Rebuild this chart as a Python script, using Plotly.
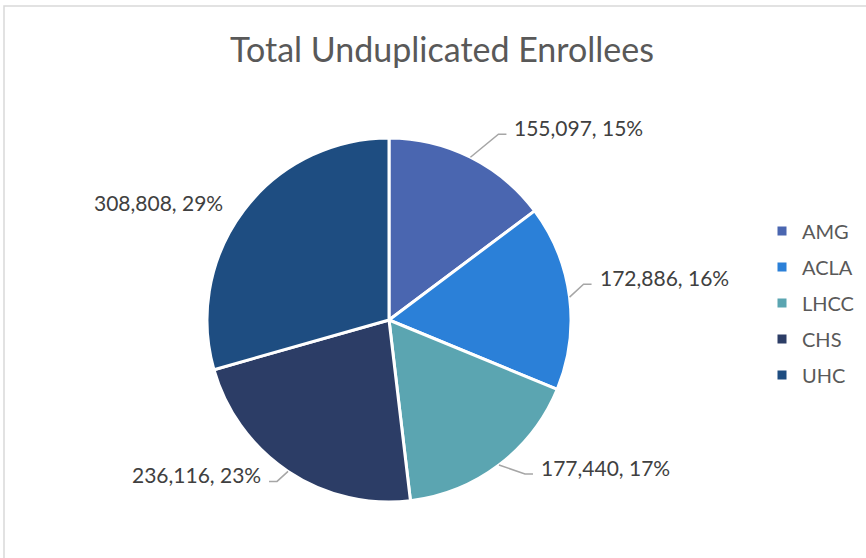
import math
import plotly.graph_objects as go

# Enrollment by plan
plans = ["AMG", "ACLA", "LHCC", "CHS", "UHC"]
enrollees = [155097, 172886, 177440, 236116, 308808]
share_labels = ["15%", "16%", "17%", "23%", "29%"]
colors = ["#4A66B0", "#2B80D8", "#5BA5B1", "#2C3D66", "#1E4D81"]

# Canvas and pie geometry (pixels)
W, H = 866, 558
CX, CY, R = 389, 320, 182

# Label placement relative to each slice's outer mid-point, and leader visibility
label_offsets = [(42, -30), (28, -20), (40, 2), (-25, 3), (-19, -8)]
show_leader = [True, True, True, True, False]


def px(x):
    return x / W


def py(y):
    return 1 - y / H


fig = go.Figure()

fig.add_trace(go.Pie(
    labels=plans,
    values=enrollees,
    sort=False,
    direction="clockwise",
    rotation=0,
    textinfo="none",
    hoverinfo="label+value+percent",
    marker=dict(colors=colors, line=dict(color="white", width=3)),
    domain=dict(x=[px(CX - R), px(CX + R)], y=[py(CY + R), py(CY - R)]),
    showlegend=False,
))

# Legend entries as square markers
for name, col in zip(plans, colors):
    fig.add_trace(go.Scatter(
        x=[None], y=[None], mode="markers", name=name,
        legendgroup=name,
        marker=dict(symbol="square", size=9, color=col),
        showlegend=True,
    ))

total = sum(enrollees)
annotations = []
shapes = []
cum = 0.0
for i, v in enumerate(enrollees):
    frac = v / total
    mid = (cum + frac / 2) * 2 * math.pi
    cum += frac
    ex = CX + R * math.sin(mid)
    ey = CY - R * math.cos(mid)
    dx, dy = label_offsets[i]
    tx, ty = ex + dx, ey + dy
    side = 1 if math.sin(mid) >= 0 else -1
    annotations.append(dict(
        x=px(tx), y=py(ty), xref="paper", yref="paper",
        text=f"{v:,}, {share_labels[i]}",
        showarrow=False,
        xanchor="left" if side > 0 else "right",
        yanchor="middle",
        font=dict(family="Lato", size=21, color="#404040"),
    ))
    if show_leader[i]:
        elbow_x = tx - side * 14
        elbow_y = ty + 7
        end_x = tx - side * 6
        path = (f"M {px(ex)} {py(ey)} L {px(elbow_x)} {py(elbow_y)} "
                f"L {px(end_x)} {py(elbow_y)}")
        shapes.append(dict(
            type="path", xref="paper", yref="paper", path=path,
            line=dict(color="#A6A6A6", width=1.5),
        ))

# Chart area frame
shapes.append(dict(
    type="path", xref="paper", yref="paper",
    path=f"M {px(4)} {py(H + 5)} L {px(4)} {py(6)} L {px(W + 5)} {py(6)}",
    line=dict(color="#D9D9D9", width=1.5),
))

fig.update_layout(
    width=W, height=H,
    margin=dict(l=0, r=0, t=0, b=0),
    paper_bgcolor="white",
    plot_bgcolor="white",
    title=dict(
        text="Total Unduplicated Enrollees",
        x=px(442), xref="container", xanchor="center",
        y=py(50), yref="container", yanchor="middle",
        font=dict(family="Lato", size=34, color="#595959"),
    ),
    xaxis=dict(visible=False),
    yaxis=dict(visible=False),
    legend=dict(
        x=px(762), y=py(303), xanchor="left", yanchor="middle",
        font=dict(family="Lato", size=20, color="#595959"),
        tracegroupgap=7,
        bgcolor="rgba(0,0,0,0)",
        itemclick=False,
    ),
    annotations=annotations,
    shapes=shapes,
)

fig.write_html("out.html")
